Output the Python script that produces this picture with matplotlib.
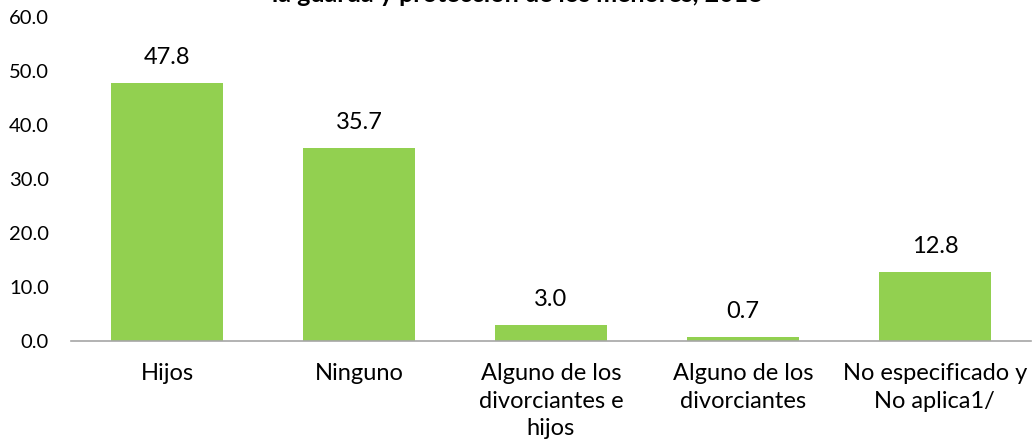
import matplotlib
matplotlib.use("Agg")
import matplotlib.pyplot as plt

categories = ["Hijos", "Ninguno", "Alguno de los\ndivorciantes e\nhijos",
              "Alguno de los\ndivorciantes", "No especificado y\nNo aplica1/"]
values = [47.8, 35.7, 3.0, 0.7, 12.8]
yticks = [0, 10, 20, 30, 40, 50, 60]

plt.rcParams['font.family'] = ['Lato', 'DejaVu Sans']

fig = plt.figure(figsize=(10.35, 4.48), dpi=100)
ax = fig.add_axes([0.0686, 0.2388, 0.9274, 0.7232])

x = range(len(categories))
bars = ax.bar(x, values, width=0.58, color="#92D050", zorder=2)

for xi, v in zip(x, values):
    ax.annotate(f"{v:.1f}", (xi, v), xytext=(0, 11), textcoords="offset points",
                ha="center", va="bottom", fontsize=17, color="#000000")

ax.set_xlim(-0.5, len(categories) - 0.5)
ax.set_ylim(0, 60)
ax.set_yticks(yticks)
ax.set_yticklabels([f"{t:.1f}" for t in yticks], fontsize=14.5)
ax.set_xticks(list(x))
ax.set_xticklabels(categories, fontsize=17, linespacing=1.38)
ax.tick_params(axis="y", length=0, pad=16)
ax.tick_params(axis="x", length=0, pad=16)

for s in ["top", "right", "left"]:
    ax.spines[s].set_visible(False)
ax.spines["bottom"].set_color("#A6A6A6")
ax.spines["bottom"].set_linewidth(1.2)

fig.text(0.5, 1.0 - 2 / 448, "Divorcios según persona a quien se asigna\nla guarda y protección de los menores, 2018",
         ha="center", va="baseline", fontsize=18, fontweight="bold")

fig.savefig("out.png", dpi=100)
